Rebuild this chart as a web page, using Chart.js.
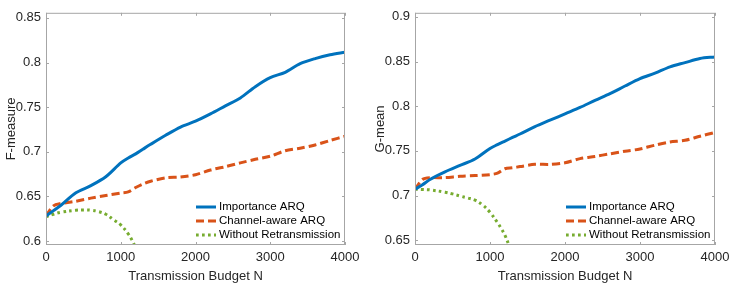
<!DOCTYPE html>
<html>
<head>
<meta charset="utf-8">
<script src="https://cdn.jsdelivr.net/npm/chart.js@4/dist/chart.umd.min.js"></script>
<style>
  body { margin: 0; background: #fff; overflow: hidden; }
  .box { position: absolute; top: 0; height: 283px; }
  #left { left: 0; width: 365px; }
  #right { left: 369px; width: 366px; }
</style>
</head>
<body>
<div class="box" id="left"><canvas id="fChart"></canvas></div>
<div class="box" id="right"><canvas id="gChart"></canvas></div>
<script>
// Data
const budget = [0, 100, 200, 400, 600, 800, 1000, 1100, 1200, 1300, 1400, 1600, 1800, 2000, 2200, 2400, 2600, 2800, 3000, 3200, 3400, 3600, 3800, 4000];

// F-measure
const fImportance = [0.628, 0.634, 0.640, 0.654, 0.662, 0.672, 0.6875, 0.693, 0.6976, 0.703, 0.7083, 0.7184, 0.7277, 0.7342, 0.7424, 0.7514, 0.7603, 0.7729, 0.783, 0.789, 0.7987, 0.8044, 0.8087, 0.8116];
const fChannel = [0.628, 0.6394, 0.642, 0.6445, 0.648, 0.651, 0.6538, 0.655, 0.6599, 0.664, 0.667, 0.6707, 0.6717, 0.6742, 0.6796, 0.6832, 0.6875, 0.6915, 0.695, 0.7011, 0.704, 0.7076, 0.7126, 0.7173];
const noRetxBudget = [0, 100, 200, 400, 500, 600, 700, 800, 900, 1000, 1100, 1150, 1200, 1250];
const fNoRetx = [0.627, 0.630, 0.6322, 0.6344, 0.6348, 0.6345, 0.633, 0.630, 0.624, 0.618, 0.608, 0.601, 0.592, 0.582];

// G-mean
const gImportance = [0.707, 0.712, 0.718, 0.7265, 0.7337, 0.7409, 0.7527, 0.757, 0.761, 0.765, 0.7689, 0.7771, 0.7843, 0.7915, 0.7986, 0.8065, 0.814, 0.8226, 0.8309, 0.837, 0.8441, 0.8488, 0.8534, 0.8552];
const gChannel = [0.707, 0.718, 0.720, 0.720, 0.7216, 0.7223, 0.7234, 0.725, 0.730, 0.731, 0.7324, 0.7349, 0.7349, 0.7367, 0.7413, 0.7438, 0.7467, 0.7496, 0.7521, 0.7564, 0.760, 0.7618, 0.7664, 0.7707];
const gNoRetx = [0.707, 0.7067, 0.7063, 0.7037, 0.7018, 0.6995, 0.6973, 0.6948, 0.6895, 0.6812, 0.6697, 0.663, 0.6554, 0.645];

const seriesNames = ["Importance ARQ", "Channel-aware ARQ", "Without Retransmission"];
const xTicks = [0, 1000, 2000, 3000, 4000];
const fTicks = [0.6, 0.65, 0.7, 0.75, 0.8, 0.85];
const gTicks = [0.65, 0.7, 0.75, 0.8, 0.85, 0.9];

const FONT = "'Liberation Sans', Arial, sans-serif";
const AXIS = "#a6a6a6";
const TEXT = "#262626";

function pts(xs, ys) {
  return ys.map((y, i) => ({ x: xs[i], y: y }));
}

// MATLAB-like box with inward ticks, plus legend in the lower right
const boxPlugin = {
  id: "boxPlugin",
  afterDatasetsDraw(chart) {
    const c = chart.ctx;
    const a = chart.chartArea;
    const xs = chart.scales.x;
    const ys = chart.scales.y;
    c.save();

    // legend
    const lx = a.right - 149, ly = a.bottom - 38;
    c.font = "11.5px " + FONT;
    c.textBaseline = "middle";
    chart.data.datasets.forEach((ds, i) => {
      const y = ly + i * 14;
      c.strokeStyle = ds.borderColor;
      c.lineWidth = ds.borderWidth;
      c.setLineDash(ds.borderDash || []);
      c.beginPath();
      c.moveTo(lx, y);
      c.lineTo(lx + 20, y);
      c.stroke();
      c.setLineDash([]);
      c.fillStyle = "#000";
      c.fillText(ds.label, lx + 23, y);
    });

    // box
    c.strokeStyle = AXIS;
    c.lineWidth = 1;
    c.strokeRect(a.left + 0.5, a.top + 0.5, a.right - a.left - 1, a.bottom - a.top - 1);
    c.beginPath();
    xs.ticks.forEach(t => {
      const px = Math.round(xs.getPixelForValue(t.value)) + 0.5;
      c.moveTo(px, a.bottom); c.lineTo(px, a.bottom - 3);
      c.moveTo(px, a.top); c.lineTo(px, a.top + 3);
    });
    ys.ticks.forEach(t => {
      const py = Math.round(ys.getPixelForValue(t.value)) + 0.5;
      c.moveTo(a.left, py); c.lineTo(a.left + 3, py);
      c.moveTo(a.right, py); c.lineTo(a.right - 3, py);
    });
    c.stroke();
    c.restore();
  }
};

function makeChart(id, yTitle, yMin, yMax, yTicks, imp, chan, noRetx) {
  return new Chart(document.getElementById(id), {
    type: "line",
    data: {
      datasets: [
        { label: seriesNames[0], data: pts(budget, imp), borderColor: "#0072BD", borderWidth: 3, tension: 0.3 },
        { label: seriesNames[1], data: pts(budget, chan), borderColor: "#D95319", borderWidth: 3, borderDash: [8, 4], tension: 0.3 },
        { label: seriesNames[2], data: pts(noRetxBudget, noRetx), borderColor: "#77AC30", borderWidth: 3, borderDash: [2.7, 3.3], tension: 0.4 }
      ]
    },
    options: {
      responsive: true,
      maintainAspectRatio: false,
      animation: false,
      events: [],
      elements: { point: { radius: 0 } },
      layout: { padding: { top: 3, right: 20, left: 4, bottom: 0 } },
      plugins: { legend: { display: false }, tooltip: { enabled: false } },
      scales: {
        x: {
          type: "linear",
          min: 0,
          max: 4000,
          afterBuildTicks: s => { s.ticks = xTicks.map(v => ({ value: v })); },
          afterFit: s => { s.height = 38; },
          grid: { display: false, drawTicks: false },
          border: { display: false },
          ticks: { color: TEXT, font: { family: FONT, size: 13 }, padding: 5, maxRotation: 0, callback: v => String(v) },
          title: { display: true, text: "Transmission Budget N", color: TEXT, font: { family: FONT, size: 13 }, padding: { top: 0, bottom: -1 } }
        },
        y: {
          min: yMin,
          max: yMax,
          afterBuildTicks: s => { s.ticks = yTicks.map(v => ({ value: v })); },
          afterFit: s => { s.width = 42; },
          grid: { display: false, drawTicks: false },
          border: { display: false },
          ticks: { color: TEXT, font: { family: FONT, size: 13 }, padding: 5, callback: v => String(+v.toFixed(2)) },
          title: { display: true, text: yTitle, color: TEXT, font: { family: FONT, size: 13 }, padding: { top: 0, bottom: 0 } }
        }
      }
    },
    plugins: [boxPlugin]
  });
}

makeChart("fChart", "F-measure", 0.5955, 0.8557, fTicks, fImportance, fChannel, fNoRetx);
makeChart("gChart", "G-mean", 0.6446, 0.9046, gTicks, gImportance, gChannel, gNoRetx);
</script>
</body>
</html>
